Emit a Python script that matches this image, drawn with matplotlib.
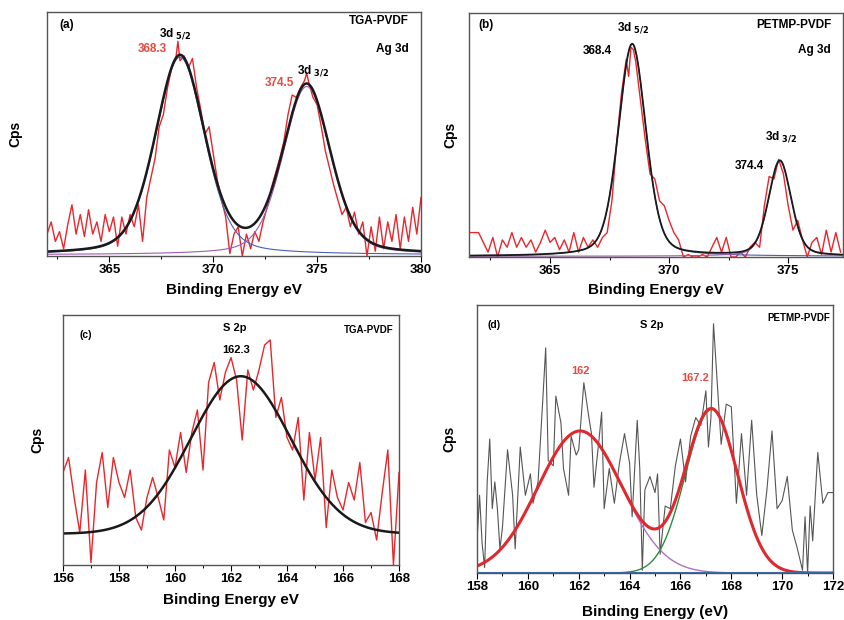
import numpy as np
import matplotlib.pyplot as plt
from matplotlib.ticker import MultipleLocator, NullLocator

plt.rcParams['font.family'] = ['Liberation Sans', 'DejaVu Sans']
plt.rcParams['font.weight'] = 'bold'

# (a) TGA-PVDF, Ag 3d  (Cps in % of panel height)
a_x = [362.0, 362.2, 362.4, 362.6, 362.8, 363.0, 363.2, 363.4, 363.6, 363.8,
       364.0, 364.2, 364.4, 364.6, 364.8, 365.0, 365.2, 365.4, 365.6, 365.8,
       366.0, 366.2, 366.4, 366.6, 366.8, 367.0, 367.2, 367.4, 367.6, 367.8,
       368.0, 368.2, 368.3,
       368.4, 368.6, 368.8, 369.0, 369.2, 369.4, 369.6, 369.8, 370.0, 370.2,
       370.4, 370.6, 370.8, 371.0, 371.2, 371.4, 371.6, 371.8, 372.0, 372.2,
       372.4, 372.6, 372.8, 373.0, 373.2, 373.4, 373.6, 373.8, 374.0, 374.2,
       374.4, 374.5,
       374.6, 374.8, 375.0, 375.2, 375.4, 375.6, 375.8, 376.0, 376.2, 376.4,
       376.6, 376.8, 377.0, 377.2, 377.4, 377.6, 377.8, 378.0, 378.2, 378.4,
       378.6, 378.8, 379.0, 379.2, 379.4, 379.6, 379.8, 380.0]
a_y = [9, 14, 6, 10, 3, 13, 21, 9, 17, 8,
       19, 9, 14, 6, 17, 10, 16, 4, 16, 9,
       17, 12, 21, 6, 24, 32, 40, 53, 58, 69,
       77, 81, 88,
       80, 82, 77, 81, 69, 60, 50, 53, 42, 31,
       23, 16, 1, 9, 12, 0, 9, 3, 10, 6,
       14, 20, 28, 34, 40, 47, 58, 66, 65, 69,
       72, 75,
       71, 65, 62, 53, 43, 36, 29, 23, 17, 20,
       12, 18, 9, 14, 0, 12, 2, 16, 3, 14,
       6, 17, 3, 16, 6, 20, 9, 24]
a_centers = [368.4, 374.5]
a_heights = [81, 69]
a_fwhm = [2.8, 2.7]

# (b) PETMP-PVDF, Ag 3d
b_x = [361.6, 361.8, 362.0, 362.2, 362.4, 362.6, 362.8, 363.0, 363.2, 363.4,
       363.6, 363.8, 364.0, 364.2, 364.4, 364.6, 364.8, 365.0, 365.2, 365.4,
       365.6, 365.8, 366.0, 366.2, 366.4, 366.6, 366.8, 367.0, 367.2, 367.4,
       367.6, 367.8, 368.0, 368.2,
       368.3, 368.4, 368.5, 368.6,
       368.8, 369.0, 369.2, 369.4, 369.6, 369.8, 370.0, 370.2, 370.4, 370.6,
       370.8, 371.0, 371.2, 371.4, 371.6, 371.8, 372.0, 372.2, 372.4, 372.6,
       372.8, 373.0, 373.2, 373.4, 373.6, 373.8, 374.0, 374.2, 374.4, 374.6,
       374.8, 375.0, 375.2, 375.4, 375.6, 375.8, 376.0, 376.2, 376.4, 376.6,
       376.8, 377.0, 377.2]
b_y = [10, 10, 10, 6, 2, 8, 0, 7, 4, 10,
       4, 8, 4, 7, 2, 6, 11, 6, 8, 3,
       7, 2, 10, 2, 8, 4, 7, 4, 8, 10,
       23, 47, 67, 81,
       74, 86, 85, 80,
       64, 48, 34, 32, 23, 21, 15, 10, 7, 0,
       1, 0, 0, 1, 0, 4, 8, 2, 8, 0,
       0, 2, 0, 4, 6, 4, 21, 33, 32, 40,
       34, 21, 11, 15, 7, 0, 6, 8, 1, 11,
       2, 10, 2]
b_centers = [368.45, 374.65]
b_heights = [87, 39]
b_fwhm = [1.36, 1.12]

# (c) TGA-PVDF, S 2p
c_x = [156.0, 156.2, 156.4, 156.6, 156.8, 157.0, 157.2, 157.4, 157.6, 157.8,
       158.0, 158.2, 158.4, 158.6, 158.8, 159.0, 159.2, 159.4, 159.6, 159.8,
       160.0, 160.2, 160.4, 160.6, 160.8, 161.0, 161.2, 161.4, 161.6, 161.8,
       162.0, 162.2, 162.4, 162.6, 162.8, 163.0, 163.2, 163.4, 163.6, 163.8,
       164.0, 164.2, 164.4, 164.6, 164.8, 165.0, 165.2, 165.4, 165.6, 165.8,
       166.0, 166.2, 166.4, 166.6, 166.8, 167.0, 167.2, 167.4, 167.6, 167.8,
       168.0]
c_y = [37, 43, 27, 13, 38, 1, 33, 45, 23, 43,
       33, 27, 38, 19, 14, 27, 35, 27, 18, 46,
       39, 53, 37, 53, 62, 38, 73, 81, 66, 77,
       83, 74, 50, 78, 70, 78, 88, 90, 59, 67,
       51, 46, 59, 26, 53, 34, 51, 15, 38, 27,
       22, 33, 26, 41, 17, 21, 10, 29, 46, 0,
       37]
c_center = 162.35
c_height = 63
c_sigma = 1.78
c_base = 12.5

# (d) PETMP-PVDF, S 2p
d_x = [158.0, 158.1, 158.2, 158.3, 158.4, 158.5, 158.6, 158.7, 158.8, 158.9,
       159.0, 159.2, 159.4, 159.5, 159.7, 159.9, 160.1, 160.2, 160.4, 160.6,
       160.7, 160.8, 161.0, 161.1, 161.3, 161.4, 161.6, 161.7, 161.9, 162.0,
       162.2, 162.4, 162.5, 162.6, 162.8, 162.9, 163.0, 163.2, 163.4, 163.6,
       163.8, 164.0, 164.1, 164.3, 164.4, 164.5, 164.6, 164.8, 165.0, 165.1,
       165.2, 165.4, 165.6, 165.8, 166.0, 166.2, 166.4, 166.6, 166.8, 167.0,
       167.1, 167.2, 167.3, 167.4, 167.6, 167.8, 168.0, 168.2, 168.4, 168.6,
       168.8, 169.0, 169.2, 169.4, 169.6, 169.8, 170.0, 170.2, 170.4, 170.6,
       170.8, 170.9, 171.0, 171.1, 171.2, 171.4, 171.6, 171.8, 172.0]
d_y = [12, 29, 11, 2, 34, 50, 24, 34, 24, 9,
       17, 46, 29, 9, 47, 29, 37, 26, 34, 67,
       84, 42, 40, 66, 56, 39, 29, 51, 44, 46,
       71, 58, 52, 32, 50, 60, 24, 39, 26, 41,
       52, 41, 21, 57, 39, 1, 31, 36, 30, 37,
       7, 25, 24, 40, 50, 34, 51, 58, 55, 68,
       47, 58, 93, 78, 48, 63, 62, 26, 52, 29,
       57, 29, 14, 31, 53, 24, 27, 36, 16, 9,
       1, 21, 0, 25, 12, 45, 26, 30, 30]
d_centers = [162.05, 167.22]
d_heights = [53, 61]
d_sigmas = [1.65, 1.02]


def pvoigt(x, c, h, w, eta=0.3):
    g = np.exp(-4 * np.log(2) * ((x - c) / w) ** 2)
    l = 1 / (1 + 4 * ((x - c) / w) ** 2)
    return h * (eta * l + (1 - eta) * g)


def gauss(x, c, h, s):
    return h * np.exp(-0.5 * ((x - c) / s) ** 2)


def style(ax, xlim, major, minor, xlabel, lab_x, lab_y):
    ax.set_xlim(xlim)
    ax.set_ylim(0, 100)
    ax.xaxis.set_major_locator(MultipleLocator(major))
    ax.xaxis.set_minor_locator(MultipleLocator(minor))
    ax.yaxis.set_major_locator(NullLocator())
    ax.tick_params(axis='x', which='major', direction='out', length=4, width=0.8,
                   labelsize=9.5, pad=2)
    ax.tick_params(axis='x', which='minor', direction='out', length=2.5, width=0.7)
    for s in ax.spines.values():
        s.set_color('#555555')
        s.set_linewidth(1.0)
    ax.set_xlabel(xlabel, fontsize=11, fontweight='bold')
    ax.set_ylabel('Cps', fontsize=10, fontweight='bold')
    ax.xaxis.set_label_coords(0.5, lab_x)
    ax.yaxis.set_label_coords(lab_y, 0.5)


fig = plt.figure(figsize=(8.44, 6.2), dpi=100)
red = '#e8262c'
txt_red = '#e84a3c'

# ---- (a)
ax = fig.add_axes([0.0557, 0.587, 0.4431, 0.3936])
ax.plot(a_x, a_y, color=red, lw=1.0)
xf = np.linspace(362, 380, 600)
p1 = pvoigt(xf, a_centers[0], a_heights[0], a_fwhm[0]) + 0.5
p2 = pvoigt(xf, a_centers[1], a_heights[1], a_fwhm[1]) + 0.5
ax.plot(xf, p1, color='#4a5fb5', lw=0.8)
ax.plot(xf, p2, color='#a05ab0', lw=0.8)
ax.plot(xf, p1 + p2 - 0.5, color='#1a1a1a', lw=1.8)
style(ax, (362, 380), 5, 2.5, 'Binding Energy eV', -0.11, -0.065)
ax.text(362.6, 94.5, '(a)', fontsize=8.5, va='center')
ax.text(379.4, 96.5, 'TGA-PVDF', fontsize=8.5, ha='right', va='center')
ax.text(379.4, 85, 'Ag 3d', fontsize=8.5, ha='right', va='center')
ax.text(368.15, 91, '3d$_{\\ 5/2}$', fontsize=8.5, ha='center', va='center')
ax.text(367.05, 85, '368.3', fontsize=8.5, color=txt_red, ha='center', va='center')
ax.text(374.8, 76, '3d$_{\\ 3/2}$', fontsize=8.5, ha='center', va='center')
ax.text(373.2, 71, '374.5', fontsize=8.5, color=txt_red, ha='center', va='center')

# ---- (b)
ax = fig.add_axes([0.5557, 0.5855, 0.4431, 0.3935])
ax.plot(b_x, b_y, color=red, lw=1.0)
xf = np.linspace(361.6, 377.3, 600)
q1 = pvoigt(xf, b_centers[0], b_heights[0], b_fwhm[0]) + 0.3
q2 = pvoigt(xf, b_centers[1], b_heights[1], b_fwhm[1]) + 0.3
ax.plot(xf, q1, color='#4a5fb5', lw=0.8)
ax.plot(xf, q2, color='#a05ab0', lw=0.8)
ax.plot(xf, q1 + q2 - 0.3, color='#1a1a1a', lw=1.3)
style(ax, (361.6, 377.3), 5, 2.5, 'Binding Energy eV', -0.106, -0.03)
ax.text(362.0, 95, '(b)', fontsize=8.5, va='center')
ax.text(376.8, 95.2, 'PETMP-PVDF', fontsize=8.5, ha='right', va='center')
ax.text(376.8, 85, 'Ag 3d', fontsize=8.5, ha='right', va='center')
ax.text(368.5, 93.9, '3d$_{\\ 5/2}$', fontsize=8.5, ha='center', va='center')
ax.text(367.0, 84.3, '368.4', fontsize=8.5, ha='center', va='center')
ax.text(374.7, 49.5, '3d$_{\\ 3/2}$', fontsize=8.5, ha='center', va='center')
ax.text(373.36, 37.2, '374.4', fontsize=8.5, ha='center', va='center')

# ---- (c)
ax = fig.add_axes([0.0746, 0.0887, 0.3982, 0.4033])
ax.plot(c_x, c_y, color=red, lw=1.0)
xf = np.linspace(156, 168, 400)
ax.plot(xf, gauss(xf, c_center, c_height, c_sigma) + c_base, color='#1a1a1a', lw=1.8)
style(ax, (156, 168), 2, 1, 'Binding Energy eV', -0.112, -0.056)
ax.text(156.6, 92, '(c)', fontsize=7.5, va='center')
ax.text(162.14, 94.7, 'S 2p', fontsize=8, ha='center', va='center')
ax.text(162.2, 86, '162.3', fontsize=8, ha='center', va='center')
ax.text(167.8, 94, 'TGA-PVDF', fontsize=7, ha='right', va='center')

# ---- (d)
ax = fig.add_axes([0.5652, 0.0758, 0.4218, 0.4323])
ax.plot(d_x, d_y, color='#555555', lw=0.8)
xf = np.linspace(158, 172, 500)
g1 = gauss(xf, d_centers[0], d_heights[0], d_sigmas[0])
g2 = gauss(xf, d_centers[1], d_heights[1], d_sigmas[1])
ax.plot(xf, g1, color='#b070c0', lw=1.0)
ax.plot(xf, g2, color='#2e8b3e', lw=1.0)
ax.plot(xf, g1 + g2, color='#e0282e', lw=2.2)
ax.axhline(0.3, color='#3a6fb0', lw=0.8)
style(ax, (158, 172), 2, 1, 'Binding Energy (eV)', -0.12, -0.057)
ax.text(158.4, 92.7, '(d)', fontsize=7.5, va='center')
ax.text(164.86, 92.7, 'S 2p', fontsize=8, ha='center', va='center')
ax.text(171.9, 95, 'PETMP-PVDF', fontsize=7, ha='right', va='center')
ax.text(162.07, 75.2, '162', fontsize=8, color=txt_red, ha='center', va='center')
ax.text(166.57, 72.8, '167.2', fontsize=8, color=txt_red, ha='center', va='center')

fig.savefig('out.png', dpi=100)
